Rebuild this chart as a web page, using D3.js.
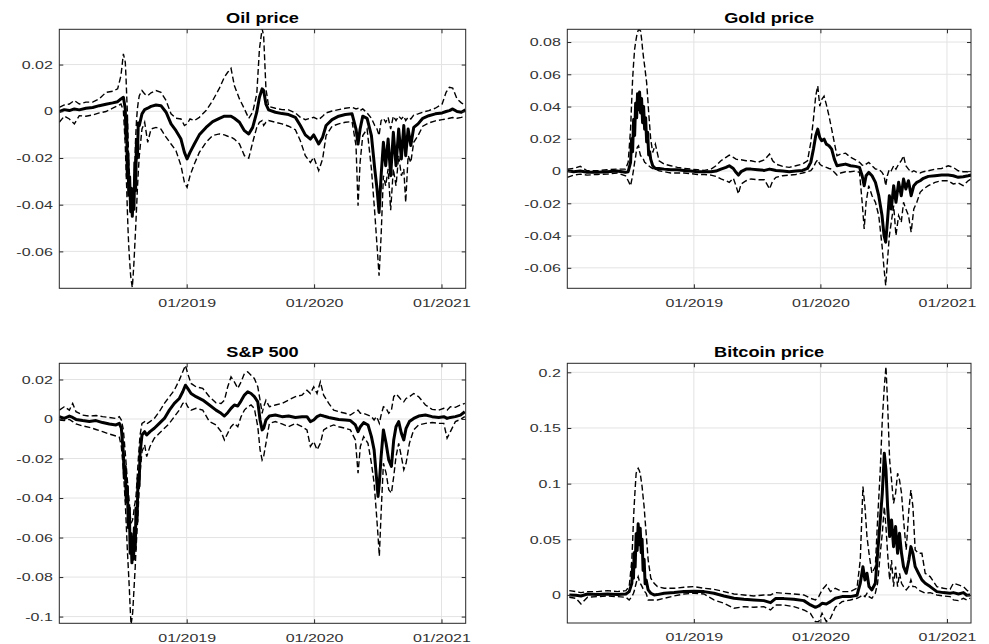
<!DOCTYPE html>
<html><head><meta charset="utf-8">
<script src="https://cdn.jsdelivr.net/npm/d3@7"></script>
<style>body{margin:0;background:#fff}svg{display:block}</style>
</head><body>
<svg id="chart" width="989" height="644"></svg>
<script>
// ---------- shared x axis (decimal years) ----------
const xLim = [2018.0, 2021.19];
const xTicks = [2019, 2020, 2021];
const xTickLabels = ["01/2019", "01/2020", "01/2021"];

// ---------- Oil price ----------
const oilYLim = [-0.0758, 0.0351];
const oilYTicks = [-0.06, -0.04, -0.02, 0, 0.02];
const oilT = [2018.000,2018.039,2018.079,2018.118,2018.157,2018.209,2018.262,2018.314,2018.366,2018.419,2018.458,2018.484,2018.503,
 2018.518,2018.524,2018.529,2018.534,2018.539,2018.545,2018.552,2018.560,2018.566,2018.573,2018.580,2018.586,2018.593,2018.599,2018.606,2018.613,2018.620,2018.628,
 2018.649,2018.670,2018.694,2018.720,2018.759,2018.798,2018.838,2018.877,2018.916,2018.955,2018.982,2019.003,2019.026,2019.060,2019.099,2019.152,2019.204,2019.257,2019.296,2019.322,2019.348,2019.374,2019.414,2019.453,2019.487,2019.518,2019.550,2019.571,2019.592,
 2019.604,2019.622,2019.643,2019.696,2019.748,2019.800,2019.853,2019.892,2019.931,2019.971,2019.997,2020.036,2020.067,2020.094,2020.141,2020.193,2020.245,2020.298,2020.329,2020.345,2020.361,2020.382,2020.416,2020.450,2020.476,2020.494,2020.510,2020.526,2020.544,2020.562,2020.581,2020.601,2020.622,2020.643,2020.664,2020.685,2020.704,2020.719,2020.738,2020.759,2020.782,2020.816,2020.853,2020.900,2020.952,2021.005,2021.036,2021.062,2021.088,2021.122,2021.156,2021.188];
const oilMid = [-0.0001,0.0007,0.0003,0.001,0.0006,0.0013,0.0016,0.0024,0.003,0.0036,0.0041,0.0053,0.006,
 0.001,-0.012,-0.004,-0.028,-0.018,-0.036,-0.028,-0.043,-0.033,-0.045,-0.036,-0.042,-0.022,-0.034,-0.012,-0.02,-0.005,-0.0061,
 -0.0011,0.0007,0.0013,0.0021,0.0027,0.0024,-0.0004,-0.0054,-0.0083,-0.0119,-0.0176,-0.0204,-0.0176,-0.014,-0.0101,-0.0069,-0.0044,-0.003,-0.0021,-0.0021,-0.0021,-0.003,-0.0047,-0.0083,-0.0097,-0.0069,-0.0004,0.006,0.0096,
 0.0089,0.0031,0.0006,-0.0004,-0.001,-0.0014,-0.0026,-0.0061,-0.0101,-0.0119,-0.0101,-0.014,-0.0111,-0.0061,-0.0036,-0.0021,-0.0014,-0.0011,-0.0076,-0.014,-0.0076,-0.0021,-0.003,-0.0104,-0.0247,-0.0333,-0.0433,-0.0276,-0.0133,-0.0233,-0.0119,-0.0276,-0.009,-0.0233,-0.0076,-0.0204,-0.0061,-0.019,-0.0076,-0.0147,-0.0069,-0.0054,-0.003,-0.0019,-0.0011,-0.0007,-0.0001,0.0003,0.001,-0.0001,-0.0004,0.0006];
const oilHi = [0.0017,0.0027,0.0031,0.0046,0.0031,0.0039,0.0039,0.0053,0.0081,0.0086,0.0096,0.0153,0.0246,
 0.021,0.014,0.0067,0,-0.01,-0.0219,-0.028,-0.0361,-0.038,-0.0404,-0.037,-0.0333,-0.022,-0.0119,-0.004,0.001,0.004,0.0067,
 0.0089,0.0074,0.0067,0.0079,0.0089,0.0081,0.0046,-0.0011,-0.003,-0.0033,-0.0061,-0.0054,-0.0033,-0.004,-0.0026,0.0003,0.0046,0.0099,0.0146,0.0167,0.0184,0.011,0.0053,0.001,-0.003,-0.0004,0.0074,0.0267,0.0353,
 0.0324,0.0096,0.0021,0.0013,0.0007,0.0006,-0.0007,-0.0026,-0.0036,-0.003,-0.0026,-0.0036,-0.0021,-0.0007,0.0001,0.0007,0.0013,0.0017,0.001,0.0013,0.0003,0.001,-0.0007,-0.003,-0.0061,-0.0076,-0.0104,-0.004,-0.003,-0.0047,-0.0026,-0.0076,-0.0021,-0.004,-0.0021,-0.0033,-0.0021,-0.004,-0.0026,-0.0033,-0.0016,-0.0011,-0.0004,0.0003,0.0013,0.0031,0.0081,0.0103,0.0099,0.0053,0.0036,0.0024];
const oilLo = [-0.0047,-0.0021,-0.0033,-0.0054,-0.0019,-0.0021,-0.0016,-0.0007,-0.0001,0.0013,0.0024,0.0031,0.0003,
 -0.0147,-0.025,-0.033,-0.042,-0.05,-0.0576,-0.064,-0.0704,-0.073,-0.0754,-0.07,-0.0647,-0.057,-0.0504,-0.042,-0.0333,-0.026,-0.019,
 -0.0076,-0.0047,-0.0133,-0.0076,-0.0069,-0.0076,-0.0111,-0.014,-0.0169,-0.0233,-0.0304,-0.0326,-0.0276,-0.0226,-0.0176,-0.0133,-0.0104,-0.0097,-0.0101,-0.0107,-0.0111,-0.0119,-0.014,-0.019,-0.0201,-0.0133,-0.0069,-0.0047,-0.004,
 -0.0061,-0.0047,-0.004,-0.0047,-0.0054,-0.0064,-0.0079,-0.0126,-0.019,-0.0219,-0.0197,-0.0254,-0.0204,-0.0104,-0.0064,-0.0054,-0.0047,-0.0044,-0.0147,-0.0404,-0.0219,-0.0104,-0.0076,-0.0247,-0.0433,-0.0576,-0.0704,-0.0533,-0.0276,-0.0319,-0.0247,-0.0424,-0.0247,-0.0319,-0.019,-0.0276,-0.0247,-0.039,-0.019,-0.0219,-0.0133,-0.0104,-0.0064,-0.005,-0.0041,-0.0036,-0.0033,-0.003,-0.0027,-0.003,-0.0026,-0.0021];

// ---------- Gold price ----------
const goldYLim = [-0.0727, 0.0879];
const goldYTicks = [-0.06, -0.04, -0.02, 0, 0.02, 0.04, 0.06, 0.08];
const goldT = [2018.000,2018.050,2018.103,2018.156,2018.235,2018.315,2018.394,2018.460,2018.481,
 2018.500,2018.508,2018.516,2018.524,2018.532,2018.540,2018.548,2018.555,2018.563,2018.571,2018.579,2018.587,2018.595,2018.603,2018.611,2018.619,2018.627,2018.635,2018.643,2018.651,2018.659,
 2018.675,2018.696,2018.725,2018.765,2018.817,2018.870,2018.923,2018.976,2019.029,2019.082,2019.135,2019.175,2019.214,2019.254,2019.280,2019.312,2019.333,2019.352,2019.373,2019.413,2019.452,2019.505,2019.558,2019.598,
 2019.623,2019.649,2019.702,2019.754,2019.806,2019.859,2019.898,2019.924,2019.945,2019.963,2019.979,2019.995,2020.010,2020.029,2020.047,2020.068,2020.089,2020.110,2020.131,2020.160,2020.199,2020.238,2020.277,2020.309,2020.330,2020.346,2020.361,2020.382,2020.408,2020.435,2020.461,2020.487,2020.503,2020.516,2020.529,2020.545,2020.560,2020.579,2020.597,2020.618,2020.639,2020.657,2020.675,2020.696,2020.717,2020.738,2020.762,2020.788,2020.814,2020.853,2020.906,2020.958,2021.010,2021.050,2021.089,2021.128,2021.168,2021.191];
const goldMid = [0.0002,-0.0004,0,-0.0008,-0.0008,-0.0004,0,-0.0008,-0.0004,
 0.0054,0.02,0.012,0.032,0.022,0.042,0.033,0.048,0.038,0.049,0.036,0.045,0.03,0.04,0.026,0.033,0.018,0.024,0.01,0.012,0.0074,
 0.0033,0.0016,0.0016,0.0012,0.0008,0.0008,0.0004,0,-0.0004,-0.0004,-0.0004,0,0.0012,0.0023,0.0033,0.0016,-0.0008,-0.0025,-0.0004,0.0012,0.0012,0.0008,0.0004,0.0012,
 0.0008,0.0004,0,-0.0004,0,0.0004,0.0016,0.0054,0.0136,0.0219,0.026,0.0208,0.0188,0.0198,0.0167,0.0157,0.0136,0.0074,0.0033,0.0037,0.0043,0.0033,0.0029,0.0023,-0.0029,-0.0091,-0.0029,-0.0008,-0.0029,-0.007,-0.0153,-0.0276,-0.04,-0.0441,-0.0318,-0.0153,-0.0235,-0.0091,-0.0194,-0.007,-0.0153,-0.0049,-0.0111,-0.006,-0.0153,-0.0091,-0.007,-0.006,-0.0045,-0.0033,-0.0029,-0.0025,-0.0025,-0.0029,-0.0039,-0.0035,-0.0029,-0.0025];
const goldHi = [0.0012,0.0016,0.0029,0.0002,0.0002,0.0008,0.0012,0.0012,0.0054,
 0.026,0.042,0.0569,0.067,0.0755,0.08,0.0837,0.086,0.0878,0.0875,0.0868,0.082,0.0755,0.07,0.0652,0.06,0.0548,0.046,0.0363,0.028,0.0198,
 0.0115,0.0167,0.0064,0.0043,0.0033,0.0023,0.0016,0.0012,0.0008,0.0004,0.0012,0.0033,0.0064,0.0085,0.0099,0.0085,0.0074,0.007,0.007,0.0064,0.0064,0.0054,0.007,0.0105,
 0.0064,0.0043,0.0029,0.0023,0.0033,0.0043,0.0064,0.0177,0.0322,0.0466,0.0528,0.0402,0.0443,0.0464,0.0412,0.0342,0.026,0.0177,0.0095,0.0105,0.0111,0.0085,0.007,0.0054,0.0037,0.0033,0.0043,0.0054,0.0033,0.0012,0.0012,-0.0008,-0.0029,-0.0091,-0.0029,0.0012,0.0002,0.0033,0.0012,0.0043,0.0064,0.0095,0.0033,0.0012,-0.0008,0.0002,-0.0008,-0.0012,-0.0004,0.0002,0.0012,0.0016,0.0033,0.0023,0.0002,-0.0004,-0.0004,-0.0008];
const goldLo = [-0.0039,-0.0025,-0.0019,-0.0025,-0.0021,-0.0019,-0.0012,-0.0029,-0.006,
 -0.0091,-0.006,-0.0029,0.001,0.0054,0.009,0.0136,0.015,0.0157,0.012,0.0095,0.009,0.0085,0.007,0.0054,0.005,0.0043,0.0038,0.0033,0.0028,0.0023,
 0.0016,0.0012,0.0002,-0.0004,-0.0012,-0.0012,-0.0012,-0.0016,-0.0021,-0.0021,-0.0025,-0.0033,-0.0049,-0.006,-0.007,-0.0045,-0.0091,-0.0142,-0.008,-0.006,-0.0049,-0.0054,-0.0054,-0.0111,
 -0.006,-0.0039,-0.0029,-0.0025,-0.0021,-0.0012,-0.0004,0.0002,0.0023,0.0054,0.007,0.0043,0.0033,0.0029,0.0023,0.0016,0.0012,-0.0008,-0.0025,-0.0012,-0.0004,-0.0004,0,-0.0008,-0.0194,-0.0359,-0.0194,-0.0091,-0.0153,-0.0194,-0.0276,-0.0462,-0.0606,-0.0709,-0.0565,-0.04,-0.0318,-0.0214,-0.04,-0.0276,-0.0318,-0.0194,-0.0235,-0.0276,-0.0379,-0.0235,-0.0194,-0.0132,-0.0111,-0.0091,-0.007,-0.006,-0.006,-0.008,-0.0074,-0.0091,-0.006,-0.0049];

// ---------- S&P 500 ----------
const spYLim = [-0.1034, 0.0282];
const spYTicks = [-0.1, -0.08, -0.06, -0.04, -0.02, 0, 0.02];
const spT = [2018.000,2018.039,2018.079,2018.105,2018.131,2018.183,2018.236,2018.288,2018.340,2018.393,2018.445,2018.471,2018.487,
 2018.503,2018.510,2018.518,2018.526,2018.534,2018.542,2018.550,2018.556,2018.563,2018.570,2018.576,2018.583,2018.589,2018.596,2018.602,2018.610,2018.618,2018.626,2018.634,
 2018.649,2018.670,2018.686,2018.712,2018.746,2018.785,2018.825,2018.864,2018.903,2018.942,2018.969,2018.990,2019.008,2019.034,2019.073,2019.126,2019.178,2019.230,2019.270,2019.296,2019.322,2019.348,2019.374,2019.401,2019.427,2019.453,2019.479,2019.505,2019.531,2019.558,2019.576,2019.592,
 2019.604,2019.622,2019.649,2019.696,2019.748,2019.800,2019.853,2019.905,2019.944,2019.971,2019.997,2020.023,2020.049,2020.075,2020.115,2020.154,2020.193,2020.245,2020.285,2020.324,2020.345,2020.363,2020.389,2020.423,2020.450,2020.471,2020.489,2020.502,2020.512,2020.526,2020.544,2020.565,2020.586,2020.607,2020.625,2020.643,2020.664,2020.685,2020.704,2020.722,2020.748,2020.782,2020.821,2020.874,2020.926,2020.978,2021.018,2021.044,2021.070,2021.109,2021.149,2021.183];
const spMid = [0.0012,0.0003,0.0015,0.0008,-0.0002,-0.0008,-0.0013,-0.0008,-0.0018,-0.0025,-0.003,-0.0022,-0.0047,
 -0.0173,-0.03,-0.024,-0.042,-0.034,-0.055,-0.045,-0.068,-0.058,-0.0728,-0.062,-0.071,-0.055,-0.066,-0.045,-0.052,-0.03,-0.034,-0.0173,
 -0.0081,-0.0064,-0.0081,-0.0064,-0.0047,-0.0022,0.0003,0.0045,0.0079,0.0104,0.0138,0.0171,0.0155,0.0129,0.0113,0.0096,0.0071,0.0045,0.0029,0.0015,0.0032,0.0054,0.0071,0.0066,0.0092,0.0121,0.0138,0.0129,0.0113,0.0087,-0.0005,-0.0055,
 -0.0047,-0.0005,0.0015,0.002,0.0012,0.0015,0.0008,0.0012,0.0012,-0.0013,-0.0005,0.0012,0.002,0.0015,0.0008,0.0003,-0.0002,-0.0005,-0.0008,-0.003,-0.0064,-0.0039,-0.0018,-0.003,-0.0089,-0.0156,-0.0291,-0.0392,-0.0324,-0.019,-0.0055,-0.0123,-0.0207,-0.024,-0.0106,-0.0039,-0.0013,-0.0072,-0.0106,-0.0047,-0.0013,0.0003,0.0015,0.002,0.0012,0.0008,0.0012,0.0003,0.0008,0.0012,0.002,0.0037];
const spHi = [0.0045,0.0062,0.0045,0.0079,0.0037,0.002,0.0015,0.0018,0.0012,0.0008,0.0003,0.0012,-0.0005,
 -0.0055,-0.011,-0.0173,-0.024,-0.0308,-0.037,-0.0425,-0.048,-0.0526,-0.052,-0.0509,-0.048,-0.0442,-0.042,-0.0392,-0.031,-0.0224,-0.015,-0.0081,
 -0.0022,-0.0013,-0.0025,-0.0013,0.0003,0.0037,0.0079,0.0113,0.0146,0.0197,0.0239,0.0272,0.023,0.018,0.0163,0.0155,0.0113,0.0082,0.0079,0.0095,0.0163,0.0213,0.0188,0.0155,0.0188,0.023,0.0239,0.0222,0.0205,0.0163,0.0095,0.0029,
 0.0062,0.0095,0.0062,0.0071,0.0079,0.0096,0.0113,0.0121,0.0146,0.0129,0.0163,0.0129,0.0188,0.0121,0.0079,0.0045,0.0037,0.0029,0.002,0.0037,0.0045,0.0029,0.0029,0.002,0.0012,-0.0005,0.0012,-0.0005,-0.0022,0.002,0.0062,0.0054,0.0029,0.0045,0.0113,0.0126,0.0113,0.0096,0.0087,0.0104,0.0113,0.0129,0.0113,0.0071,0.0049,0.0045,0.0054,0.0045,0.0062,0.0059,0.0071,0.0079];
const spLo = [-0.0005,-0.0008,-0.0002,-0.0013,-0.0025,-0.0035,-0.0042,-0.0053,-0.0064,-0.0076,-0.0086,-0.0092,-0.0139,
 -0.0257,-0.034,-0.0425,-0.054,-0.066,-0.076,-0.0862,-0.095,-0.104,-0.101,-0.098,-0.09,-0.0829,-0.075,-0.066,-0.057,-0.0476,-0.037,-0.0274,
 -0.0165,-0.0131,-0.019,-0.0139,-0.0097,-0.0072,-0.0047,-0.0022,0.0012,0.0045,0.0079,0.0087,0.0062,0.0045,0.0054,0.0045,-0.0013,-0.003,-0.0064,-0.0106,-0.0072,-0.0039,-0.0022,-0.0039,0.0012,0.0045,0.0062,0.0071,0.0054,-0.0039,-0.0156,-0.0207,
 -0.019,-0.0123,-0.0022,-0.0013,-0.0025,-0.0039,-0.0022,-0.0039,-0.0055,-0.0139,-0.0114,-0.0156,-0.0123,-0.0055,-0.0039,-0.003,-0.0039,-0.0047,-0.0055,-0.0106,-0.0274,-0.0139,-0.0089,-0.0123,-0.0224,-0.0324,-0.0476,-0.0593,-0.0694,-0.0476,-0.0224,-0.0274,-0.0358,-0.0375,-0.0291,-0.019,-0.0123,-0.019,-0.0257,-0.0224,-0.0123,-0.0055,-0.003,-0.0022,-0.0018,-0.0022,-0.0022,-0.0097,-0.0064,-0.0013,-0.0002,0.0012];

// ---------- Bitcoin price ----------
const btcYLim = [-0.0252, 0.2081];
const btcYTicks = [0, 0.05, 0.1, 0.15, 0.2];
const btcT = [2018.016,2018.068,2018.108,2018.160,2018.239,2018.318,2018.397,2018.463,2018.489,
 2018.510,2018.517,2018.523,2018.528,2018.536,2018.544,2018.552,2018.560,2018.568,2018.576,2018.584,2018.591,2018.599,2018.607,2018.615,2018.623,
 2018.639,2018.660,2018.686,2018.712,2018.765,2018.844,2018.922,2019.001,2019.080,2019.159,2019.238,2019.317,2019.396,2019.474,2019.553,2019.606,2019.645,2019.711,2019.790,2019.869,2019.921,2019.961,2019.987,2020.013,2020.047,2020.079,2020.118,2020.171,2020.237,2020.289,2020.315,2020.336,2020.352,2020.368,2020.384,2020.407,2020.434,2020.452,2020.473,2020.489,2020.505,2020.518,2020.531,2020.547,2020.562,2020.578,2020.594,2020.610,2020.625,2020.641,2020.657,2020.678,2020.699,2020.715,2020.731,2020.749,2020.775,2020.802,2020.828,2020.867,2020.920,2020.972,2021.025,2021.051,2021.091,2021.130,2021.156,2021.183];
const btcMid = [0,-0.0003,-0.0009,0.0009,0.0003,0.0009,0.0003,0.0009,0.003,
 0.0105,0.028,0.015,0.038,0.025,0.055,0.04,0.064,0.045,0.06,0.038,0.05,0.022,0.032,0.01,0.0135,
 0.0045,0.0015,0,0.0003,0.0015,0.0021,0.003,0.0033,0.003,0.0015,-0.0009,-0.003,-0.0039,-0.0045,-0.0051,-0.0069,-0.0033,-0.0033,-0.0039,-0.0051,-0.009,-0.0111,-0.0099,-0.0075,-0.0081,-0.006,-0.003,-0.0015,-0.0015,-0.0003,0.0105,0.0254,0.0135,0.0195,0.0075,0.0045,0.0105,0.0374,0.0674,0.0913,0.1272,0.1123,0.0793,0.0524,0.0674,0.0434,0.0614,0.0374,0.0554,0.0374,0.0254,0.0195,0.0314,0.0434,0.0374,0.0254,0.0195,0.0135,0.0105,0.0075,0.003,0.0021,0.0015,0.0021,0.0009,0.0021,-0.0003,0];
const btcHi = [0.0039,0.003,0.0021,0.003,0.003,0.0039,0.003,0.0039,0.0075,
 0.0314,0.05,0.068,0.0793,0.095,0.1093,0.112,0.1138,0.112,0.1093,0.103,0.0973,0.088,0.0793,0.067,0.0554,
 0.0314,0.015,0.0105,0.0075,0.006,0.006,0.0069,0.0075,0.006,0.0051,0.003,0.0009,0,-0.0009,0,0,0.0021,0.0015,0.0009,0,-0.003,-0.0045,-0.0015,0.0045,0.009,0.003,0.006,0.003,0.003,0.006,0.0314,0.0973,0.0793,0.0524,0.0374,0.0195,0.0254,0.0674,0.1123,0.1572,0.1871,0.2051,0.1722,0.1213,0.1033,0.0823,0.0913,0.1093,0.1033,0.0913,0.0674,0.0404,0.0763,0.0943,0.0793,0.0404,0.0374,0.0374,0.0195,0.0165,0.0075,0.006,0.0051,0.0105,0.009,0.0075,0.0045,0.0021];
const btcLo = [-0.0021,-0.003,-0.0081,-0.0021,-0.0015,-0.0009,-0.0015,-0.0021,-0.0045,
 -0.0015,0,0.0015,0.003,0.007,0.0105,0.014,0.0165,0.013,0.0105,0.009,0.0075,0.0055,0.0039,0.0025,0.0015,
 -0.0045,-0.0045,-0.0045,-0.0045,-0.003,-0.0009,0.0009,0.0015,0.0009,-0.0045,-0.0075,-0.012,-0.0105,-0.0111,-0.0105,-0.0135,-0.009,-0.009,-0.0105,-0.0135,-0.0165,-0.024,-0.024,-0.0165,-0.024,-0.021,-0.0111,-0.006,-0.0045,-0.003,-0.0015,0,-0.0015,0.0015,-0.0015,-0.003,0.0015,0.0105,0.0374,0.0554,0.0793,0.0614,0.0374,0.0135,0.0314,0.0075,0.0254,0.0075,0.0195,0.0105,0.0075,0.0045,0.0075,0.0135,0.0075,0.0075,0.0045,0.003,0.0015,0.0021,0,-0.0009,-0.0015,-0.0045,-0.0051,-0.003,-0.0045,-0.003];

const titles = ["Oil price", "Gold price", "S&P 500", "Bitcoin price"];

// ---------- layout (pixels) ----------
const layout = [
  {x0: 59.3, y0: 29.3, x1: 465.7, y1: 288.3},
  {x0: 567.3, y0: 29.3, x1: 971, y1: 288.3},
  {x0: 59.3, y0: 363.3, x1: 465.7, y1: 623.3},
  {x0: 567.3, y0: 363.3, x1: 971, y1: 623}
];
const series = [
  {t: oilT, mid: oilMid, lo: oilLo, hi: oilHi, ylim: oilYLim, yticks: oilYTicks},
  {t: goldT, mid: goldMid, lo: goldLo, hi: goldHi, ylim: goldYLim, yticks: goldYTicks},
  {t: spT, mid: spMid, lo: spLo, hi: spHi, ylim: spYLim, yticks: spYTicks},
  {t: btcT, mid: btcMid, lo: btcLo, hi: btcHi, ylim: btcYLim, yticks: btcYTicks}
];

const FONT = '"Liberation Sans", Arial, Helvetica, sans-serif';
const AX = "#262626";
const svg = d3.select("#chart");
const fmtY = d => d === 0 ? "0" : String(+d.toFixed(4));
const STRETCH = 1.38;

series.forEach((s, i) => {
  const L = layout[i];
  const x = d3.scaleLinear().domain(xLim).range([L.x0, L.x1]);
  const y = d3.scaleLinear().domain(s.ylim).range([L.y1, L.y0]);
  const g = svg.append("g");

  // grid
  g.append("g").selectAll("line").data(xTicks).join("line")
    .attr("x1", d => x(d)).attr("x2", d => x(d)).attr("y1", L.y0).attr("y2", L.y1)
    .attr("stroke", "#e3e3e3").attr("stroke-width", 1);
  g.append("g").selectAll("line").data(s.yticks).join("line")
    .attr("x1", L.x0).attr("x2", L.x1).attr("y1", d => y(d)).attr("y2", d => y(d))
    .attr("stroke", "#e3e3e3").attr("stroke-width", 1);

  // clip
  const cid = "clip" + i;
  svg.append("clipPath").attr("id", cid).append("rect")
    .attr("x", L.x0).attr("y", L.y0).attr("width", L.x1 - L.x0).attr("height", L.y1 - L.y0);
  const lg = g.append("g").attr("clip-path", `url(#${cid})`);
  const mk = arr => d3.line().defined((d, j) => j < s.t.length)
    .x((d, j) => x(s.t[j])).y(d => y(d))(arr);
  [s.lo, s.hi].forEach(arr => {
    lg.append("path").attr("d", mk(arr)).attr("fill", "none").attr("stroke", "#000")
      .attr("stroke-width", 1.4).attr("stroke-dasharray", "6,3");
  });
  lg.append("path").attr("d", mk(s.mid)).attr("fill", "none").attr("stroke", "#000")
    .attr("stroke-width", 3).attr("stroke-linejoin", "round");

  // axes (inward ticks on all four sides)
  const styleAxis = sel => {
    sel.select(".domain").remove();
    sel.selectAll(".tick line").attr("stroke", AX);
    sel.selectAll("text").attr("fill", "#333").attr("font-family", FONT).attr("font-size", 11.6);
  };
  const left = g.append("g").attr("transform", `translate(${L.x0},0)`)
    .call(d3.axisLeft(y).tickValues(s.yticks).tickSize(-4).tickPadding(6.5).tickFormat(fmtY))
    .call(styleAxis);
  left.selectAll("text").each(function () {
    const tx = +this.getAttribute("x");
    d3.select(this).attr("x", 0).attr("transform", `translate(${tx},0) scale(${STRETCH},1)`);
  });
  g.append("g").attr("transform", `translate(${L.x1},0)`)
    .call(d3.axisRight(y).tickValues(s.yticks).tickSize(-4).tickFormat(""))
    .call(styleAxis);
  const bottom = g.append("g").attr("transform", `translate(0,${L.y1})`)
    .call(d3.axisBottom(x).tickValues(xTicks).tickSize(-4).tickPadding(10)
      .tickFormat((d, k) => xTickLabels[k]))
    .call(styleAxis);
  bottom.selectAll("text").attr("transform", `scale(${STRETCH},1)`);
  g.append("g").attr("transform", `translate(0,${L.y0})`)
    .call(d3.axisTop(x).tickValues(xTicks).tickSize(-4).tickFormat(""))
    .call(styleAxis);

  // box
  g.append("rect").attr("x", L.x0).attr("y", L.y0)
    .attr("width", L.x1 - L.x0).attr("height", L.y1 - L.y0)
    .attr("fill", "none").attr("stroke", AX).attr("stroke-width", 1);

  // title
  g.append("text")
    .attr("transform", `translate(${(L.x0 + L.x1) / 2},${L.y0 - 6.5}) scale(1.3,1)`)
    .attr("text-anchor", "middle").attr("font-family", FONT)
    .attr("font-weight", "bold").attr("font-size", 14).attr("fill", "#000")
    .text(titles[i]);
});
</script>
</body></html>
